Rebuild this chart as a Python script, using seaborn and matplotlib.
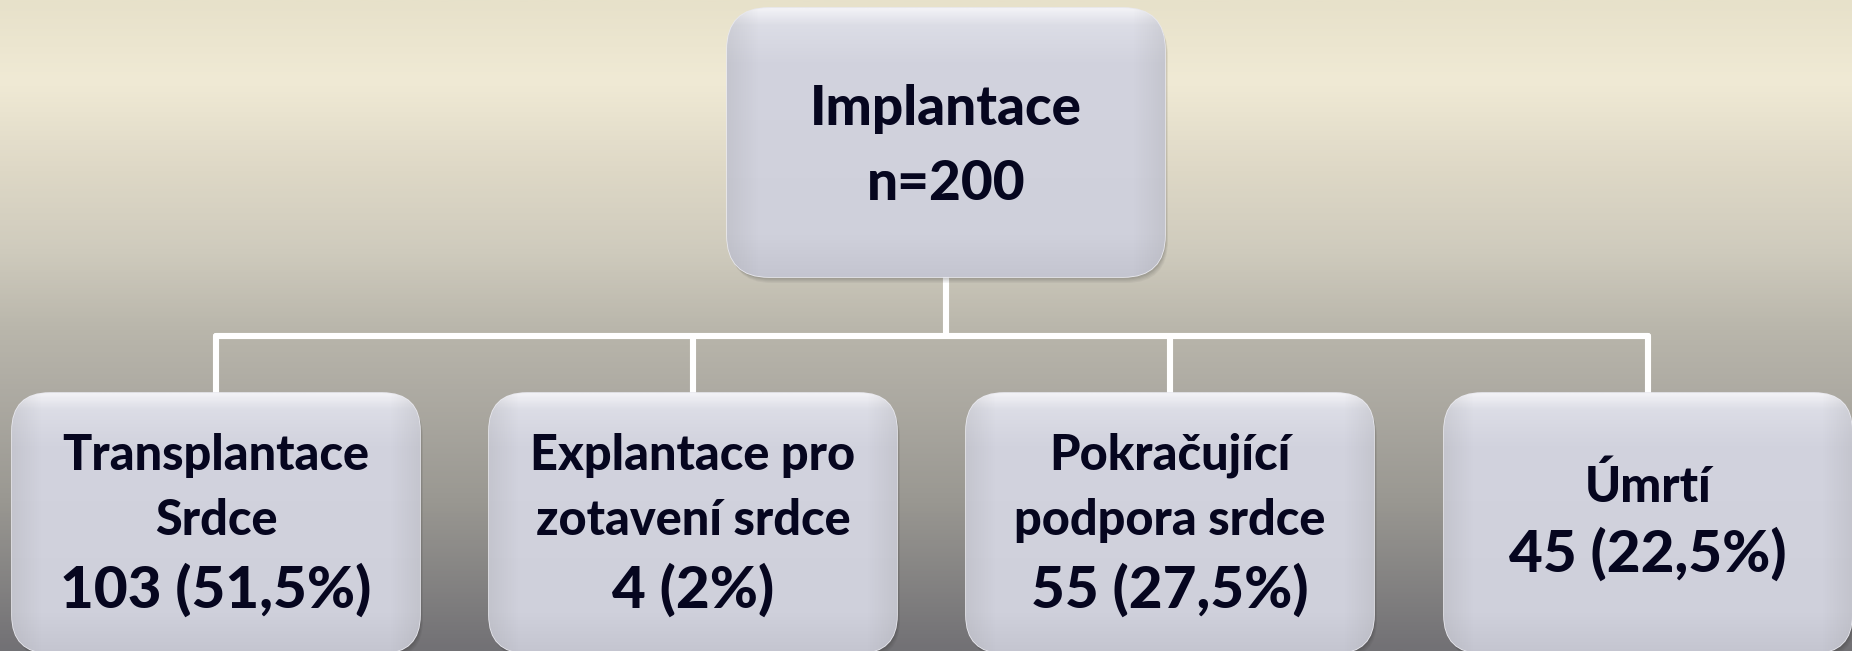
import numpy as np
import pandas as pd
import matplotlib
matplotlib.use("Agg")
import matplotlib.pyplot as plt
from matplotlib.patches import FancyBboxPatch
from matplotlib.colors import LinearSegmentedColormap
import seaborn as sns

# ---- data ----
root_label = "Implantace"
root_n = 200
outcome_labels = ["Transplantace\nSrdce", "Explantace pro\nzotavení srdce",
                  "Pokračující\npodpora srdce", "Úmrtí"]
outcome_counts = [103, 4, 55, 45]
outcome_pcts = ["51,5", "2", "27,5", "22,5"]

sns.set_theme(style="white")
plt.rcParams['font.family'] = ['Lato', 'DejaVu Sans']

W, H = 1852, 651
fig = plt.figure(figsize=(W / 100, H / 100), dpi=100)
ax = fig.add_axes([0, 0, 1, 1])
ax.set_xlim(0, W)
ax.set_ylim(H, 0)
ax.axis("off")

# background gradient
bg_stops = [(0.0, "#e7e1ca"), (80 / H, "#f0ead5"), (170 / H, "#ded8c6"),
            (250 / H, "#cfcbbd"), (330 / H, "#b9b6ab"), (390 / H, "#aeaba3"),
            (500 / H, "#9a9892"), (1.0, "#727175")]
bg_cmap = LinearSegmentedColormap.from_list("bg", bg_stops)
grad = np.linspace(0, 1, 400).reshape(-1, 1)
ax.imshow(grad, cmap=bg_cmap, aspect="auto", extent=[0, W, H, 0], zorder=0)

TXT = "#06061f"
WEIGHT = "black"
box_stops = [(0.0, "#f2f2f6"), (0.06, "#dcdde6"), (0.2, "#d2d3de"),
             (0.85, "#cfd0db"), (1.0, "#c4c5d0")]
box_cmap = LinearSegmentedColormap.from_list("box", box_stops)


def draw_box(x0, y0, w, h, r):
    # soft shadow
    for k, a in enumerate([0.05, 0.05, 0.06, 0.08]):
        off = 6 - k * 1.2
        sh = FancyBboxPatch((x0 + off * 0.5, y0 + off), w, h,
                            boxstyle=f"round,pad=0,rounding_size={r}",
                            fc="#202020", ec="none", alpha=a, zorder=2)
        ax.add_patch(sh)
    p = FancyBboxPatch((x0, y0), w, h, boxstyle=f"round,pad=0,rounding_size={r}",
                       fc="#d0d1dc", ec="#e9e9ef", lw=1.2, zorder=3)
    ax.add_patch(p)
    g = np.linspace(0, 1, 300).reshape(-1, 1)
    im = ax.imshow(g, cmap=box_cmap, aspect="auto",
                   extent=[x0, x0 + w, y0 + h, y0], zorder=3.5)
    im.set_clip_path(p)
    gh = np.linspace(0, 1, 300).reshape(1, -1)
    edge = np.clip(np.minimum(gh, 1 - gh) * 14, 0, 1)
    rgba = np.zeros((1, 300, 4))
    rgba[..., :3] = 0.55
    rgba[..., 3] = (1 - edge) * 0.18
    im2 = ax.imshow(rgba, aspect="auto", extent=[x0, x0 + w, y0 + h, y0], zorder=3.6)
    im2.set_clip_path(p)


# connectors via seaborn
root_cx = 946
child_cx = [216, 693, 1170, 1648]
y_root_bottom, y_bar, y_child_top = 277, 336, 394
segs = []
segs.append(pd.DataFrame({"x": [root_cx, root_cx], "y": [y_root_bottom, y_bar], "seg": 0}))
segs.append(pd.DataFrame({"x": [child_cx[0], child_cx[-1]], "y": [y_bar, y_bar], "seg": 1}))
for i, cx in enumerate(child_cx):
    segs.append(pd.DataFrame({"x": [cx, cx], "y": [y_bar, y_child_top], "seg": 2 + i}))
lines = pd.concat(segs, ignore_index=True)
sns.lineplot(data=lines, x="x", y="y", units="seg", estimator=None, sort=False,
             color="white", lw=4.4, ax=ax, zorder=1, legend=False)
ax.set_xlim(0, W)
ax.set_ylim(H, 0)
ax.axis("off")

# root box
draw_box(727, 8, 438, 269, 42)
ax.text(root_cx, 125, root_label, ha="center", va="baseline", fontsize=39.5,
        fontweight=WEIGHT, color=TXT, zorder=5)
ax.text(root_cx, 200, f"n={root_n}", ha="center", va="baseline", fontsize=39.5,
        fontweight=WEIGHT, color=TXT, zorder=5)

# child boxes
bw, by, bh = 408, 393, 258
for cx, lab, cnt, pct in zip(child_cx, outcome_labels, outcome_counts, outcome_pcts):
    draw_box(cx - bw / 2, by, bw, bh + 2, 38)
    parts = lab.split("\n")
    if len(parts) == 2:
        ax.text(cx, 470, parts[0], ha="center", va="baseline", fontsize=35,
                fontweight=WEIGHT, color=TXT, zorder=5)
        ax.text(cx, 535, parts[1], ha="center", va="baseline", fontsize=35,
                fontweight=WEIGHT, color=TXT, zorder=5)
        ax.text(cx, 608, f"{cnt} ({pct}%)", ha="center", va="baseline", fontsize=42,
                fontweight=WEIGHT, color=TXT, zorder=5)
    else:
        ax.text(cx, 502, parts[0], ha="center", va="baseline", fontsize=35,
                fontweight=WEIGHT, color=TXT, zorder=5)
        ax.text(cx, 572, f"{cnt} ({pct}%)", ha="center", va="baseline", fontsize=42,
                fontweight=WEIGHT, color=TXT, zorder=5)

fig.savefig("out.png", dpi=100)
